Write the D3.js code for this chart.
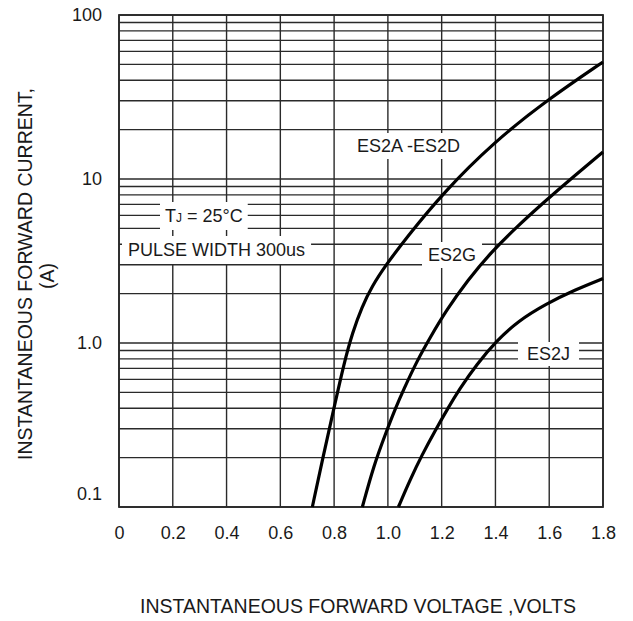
<!DOCTYPE html>
<html>
<head>
<meta charset="utf-8">
<script src="https://cdn.jsdelivr.net/npm/d3@7"></script>
<style>
  body { margin: 0; background: #fff; }
  text { font-family: "Liberation Sans", Arial, sans-serif; fill: #1a1a1a; }
</style>
</head>
<body>
<div class="chart"></div>
<script>
var svgWidth = 633;
var svgHeight = 621;

var margin = { top: 15, right: 30, bottom: 114, left: 119 };
var width = svgWidth - margin.left - margin.right;
var height = svgHeight - margin.top - margin.bottom;

// forward voltage (V) / forward current (A)
var voltES2AD = [0.719, 0.757, 0.797, 0.838, 0.868, 0.903, 0.942, 0.990, 1.071, 1.205, 1.394, 1.597, 1.80];
var ampsES2AD = [0.1, 0.196, 0.385, 0.766, 1.15, 1.66, 2.23, 2.95, 4.43, 8.22, 16.8, 30.7, 51.7];

var voltES2G = [0.905, 0.947, 0.991, 1.030, 1.058, 1.106, 1.160, 1.216, 1.297, 1.385, 1.475, 1.581, 1.692, 1.80];
var ampsES2G = [0.1, 0.178, 0.279, 0.407, 0.517, 0.766, 1.10, 1.57, 2.42, 3.59, 5.03, 7.24, 10.4, 14.6];

var voltES2J = [1.039, 1.082, 1.127, 1.177, 1.224, 1.264, 1.331, 1.404, 1.484, 1.588, 1.696, 1.80];
var ampsES2J = [0.1, 0.146, 0.208, 0.295, 0.402, 0.517, 0.745, 1.03, 1.36, 1.73, 2.11, 2.47];

var xTicks = [0, 0.2, 0.4, 0.6, 0.8, 1.0, 1.2, 1.4, 1.6, 1.8];
var xTickLabels = ["0", "0.2", "0.4", "0.6", "0.8", "1.0", "1.2", "1.4", "1.6", "1.8"];
var yTicks = [100, 10, 1, 0.1];
var yTickLabels = ["100", "10", "1.0", "0.1"];

var svg = d3.select(".chart")
  .append("svg")
  .attr("width", svgWidth)
  .attr("height", svgHeight)
  .append("g")
  .attr("transform", "translate(" + margin.left + "," + margin.top + ")");

var xScale = d3.scaleLinear().domain([0, 1.8]).range([0, width]);
var yScale = d3.scaleLog().domain([0.1, 100]).range([height, 0]);

// grid
var grid = svg.append("g").attr("class", "grid");
grid.selectAll("line.h")
  .data(yScale.ticks())
  .enter().append("line")
    .attr("x1", 0).attr("x2", width)
    .attr("y1", function(d) { return yScale(d); })
    .attr("y2", function(d) { return yScale(d); })
    .attr("stroke", "#2a2a2a").attr("stroke-width", 1.4);
grid.selectAll("line.v")
  .data(xTicks)
  .enter().append("line")
    .attr("x1", function(d) { return xScale(d); })
    .attr("x2", function(d) { return xScale(d); })
    .attr("y1", 0).attr("y2", height)
    .attr("stroke", "#2a2a2a").attr("stroke-width", 1.4);

svg.append("rect")
  .attr("width", width).attr("height", height)
  .attr("fill", "none").attr("stroke", "#2a2a2a").attr("stroke-width", 1.8);

// white-boxed labels over the grid
function boxedLabel(x, y, padX, padY, build) {
  var g = svg.append("g");
  var rect = g.append("rect").attr("fill", "#fff");
  var t = g.append("text").attr("x", x).attr("y", y).style("font-size", "18px");
  build(t);
  var b = t.node().getBBox();
  rect.attr("x", b.x - padX).attr("y", b.y - padY)
    .attr("width", b.width + 2 * padX).attr("height", b.height + 2 * padY);
  return g;
}

boxedLabel(238, 137, 7, 3, function(t) { t.text("ES2A -ES2D"); });
boxedLabel(46, 207, 5, 4, function(t) {
  t.append("tspan").text("T");
  t.append("tspan").style("font-size", "12px").text("J");
  t.append("tspan").text(" = 25°C");
});
boxedLabel(9, 241, 6, 4, function(t) { t.text("PULSE WIDTH 300us"); });
boxedLabel(309, 246, 6, 3, function(t) { t.text("ES2G"); });
boxedLabel(408, 345, 9, 2, function(t) { t.text("ES2J"); });

// curves
var line = d3.line()
  .x(function(d) { return xScale(d[0]); })
  .y(function(d) { return yScale(d[1]); })
  .curve(d3.curveBasis);

[[voltES2AD, ampsES2AD], [voltES2G, ampsES2G], [voltES2J, ampsES2J]].forEach(function(s) {
  svg.append("path")
    .datum(d3.zip(s[0], s[1]))
    .attr("d", line)
    .attr("fill", "none")
    .attr("stroke", "#000")
    .attr("stroke-width", 3.2)
    .attr("stroke-linecap", "butt");
});

// axes (labels only)
var bottomAxis = d3.axisBottom(xScale)
  .tickValues(xTicks)
  .tickSize(0)
  .tickPadding(19)
  .tickFormat(function(d, i) { return xTickLabels[i]; });
var leftAxis = d3.axisLeft(yScale)
  .tickValues(yTicks)
  .tickSize(0)
  .tickPadding(17)
  .tickFormat(function(d, i) { return yTickLabels[i]; });

var gx = svg.append("g").attr("transform", "translate(0," + height + ")").call(bottomAxis);
var gy = svg.append("g").call(leftAxis);
[gx, gy].forEach(function(g) {
  g.select(".domain").remove();
  g.selectAll("text").style("font-size", "18px").attr("fill", "#1a1a1a")
    .style("font-family", "'Liberation Sans', Arial, sans-serif");
});
gy.selectAll(".tick").filter(function(d) { return d === 0.1; })
  .select("text").attr("dy", "-0.4em");

// axis titles
svg.append("text")
  .attr("transform", "translate(" + (width / 2 - 3) + "," + (height + 106) + ")")
  .attr("text-anchor", "middle")
  .style("font-size", "19.5px")
  .text("INSTANTANEOUS FORWARD VOLTAGE ,VOLTS");

svg.append("text")
  .attr("transform", "translate(" + (32 - margin.left) + "," + (259) + ") rotate(-90)")
  .attr("text-anchor", "middle")
  .style("font-size", "19.5px")
  .text("INSTANTANEOUS FORWARD CURRENT,");

svg.append("text")
  .attr("transform", "translate(" + (54 - margin.left) + "," + (261) + ") rotate(-90)")
  .attr("text-anchor", "middle")
  .style("font-size", "19.5px")
  .text("(A)");
</script>
</body>
</html>
